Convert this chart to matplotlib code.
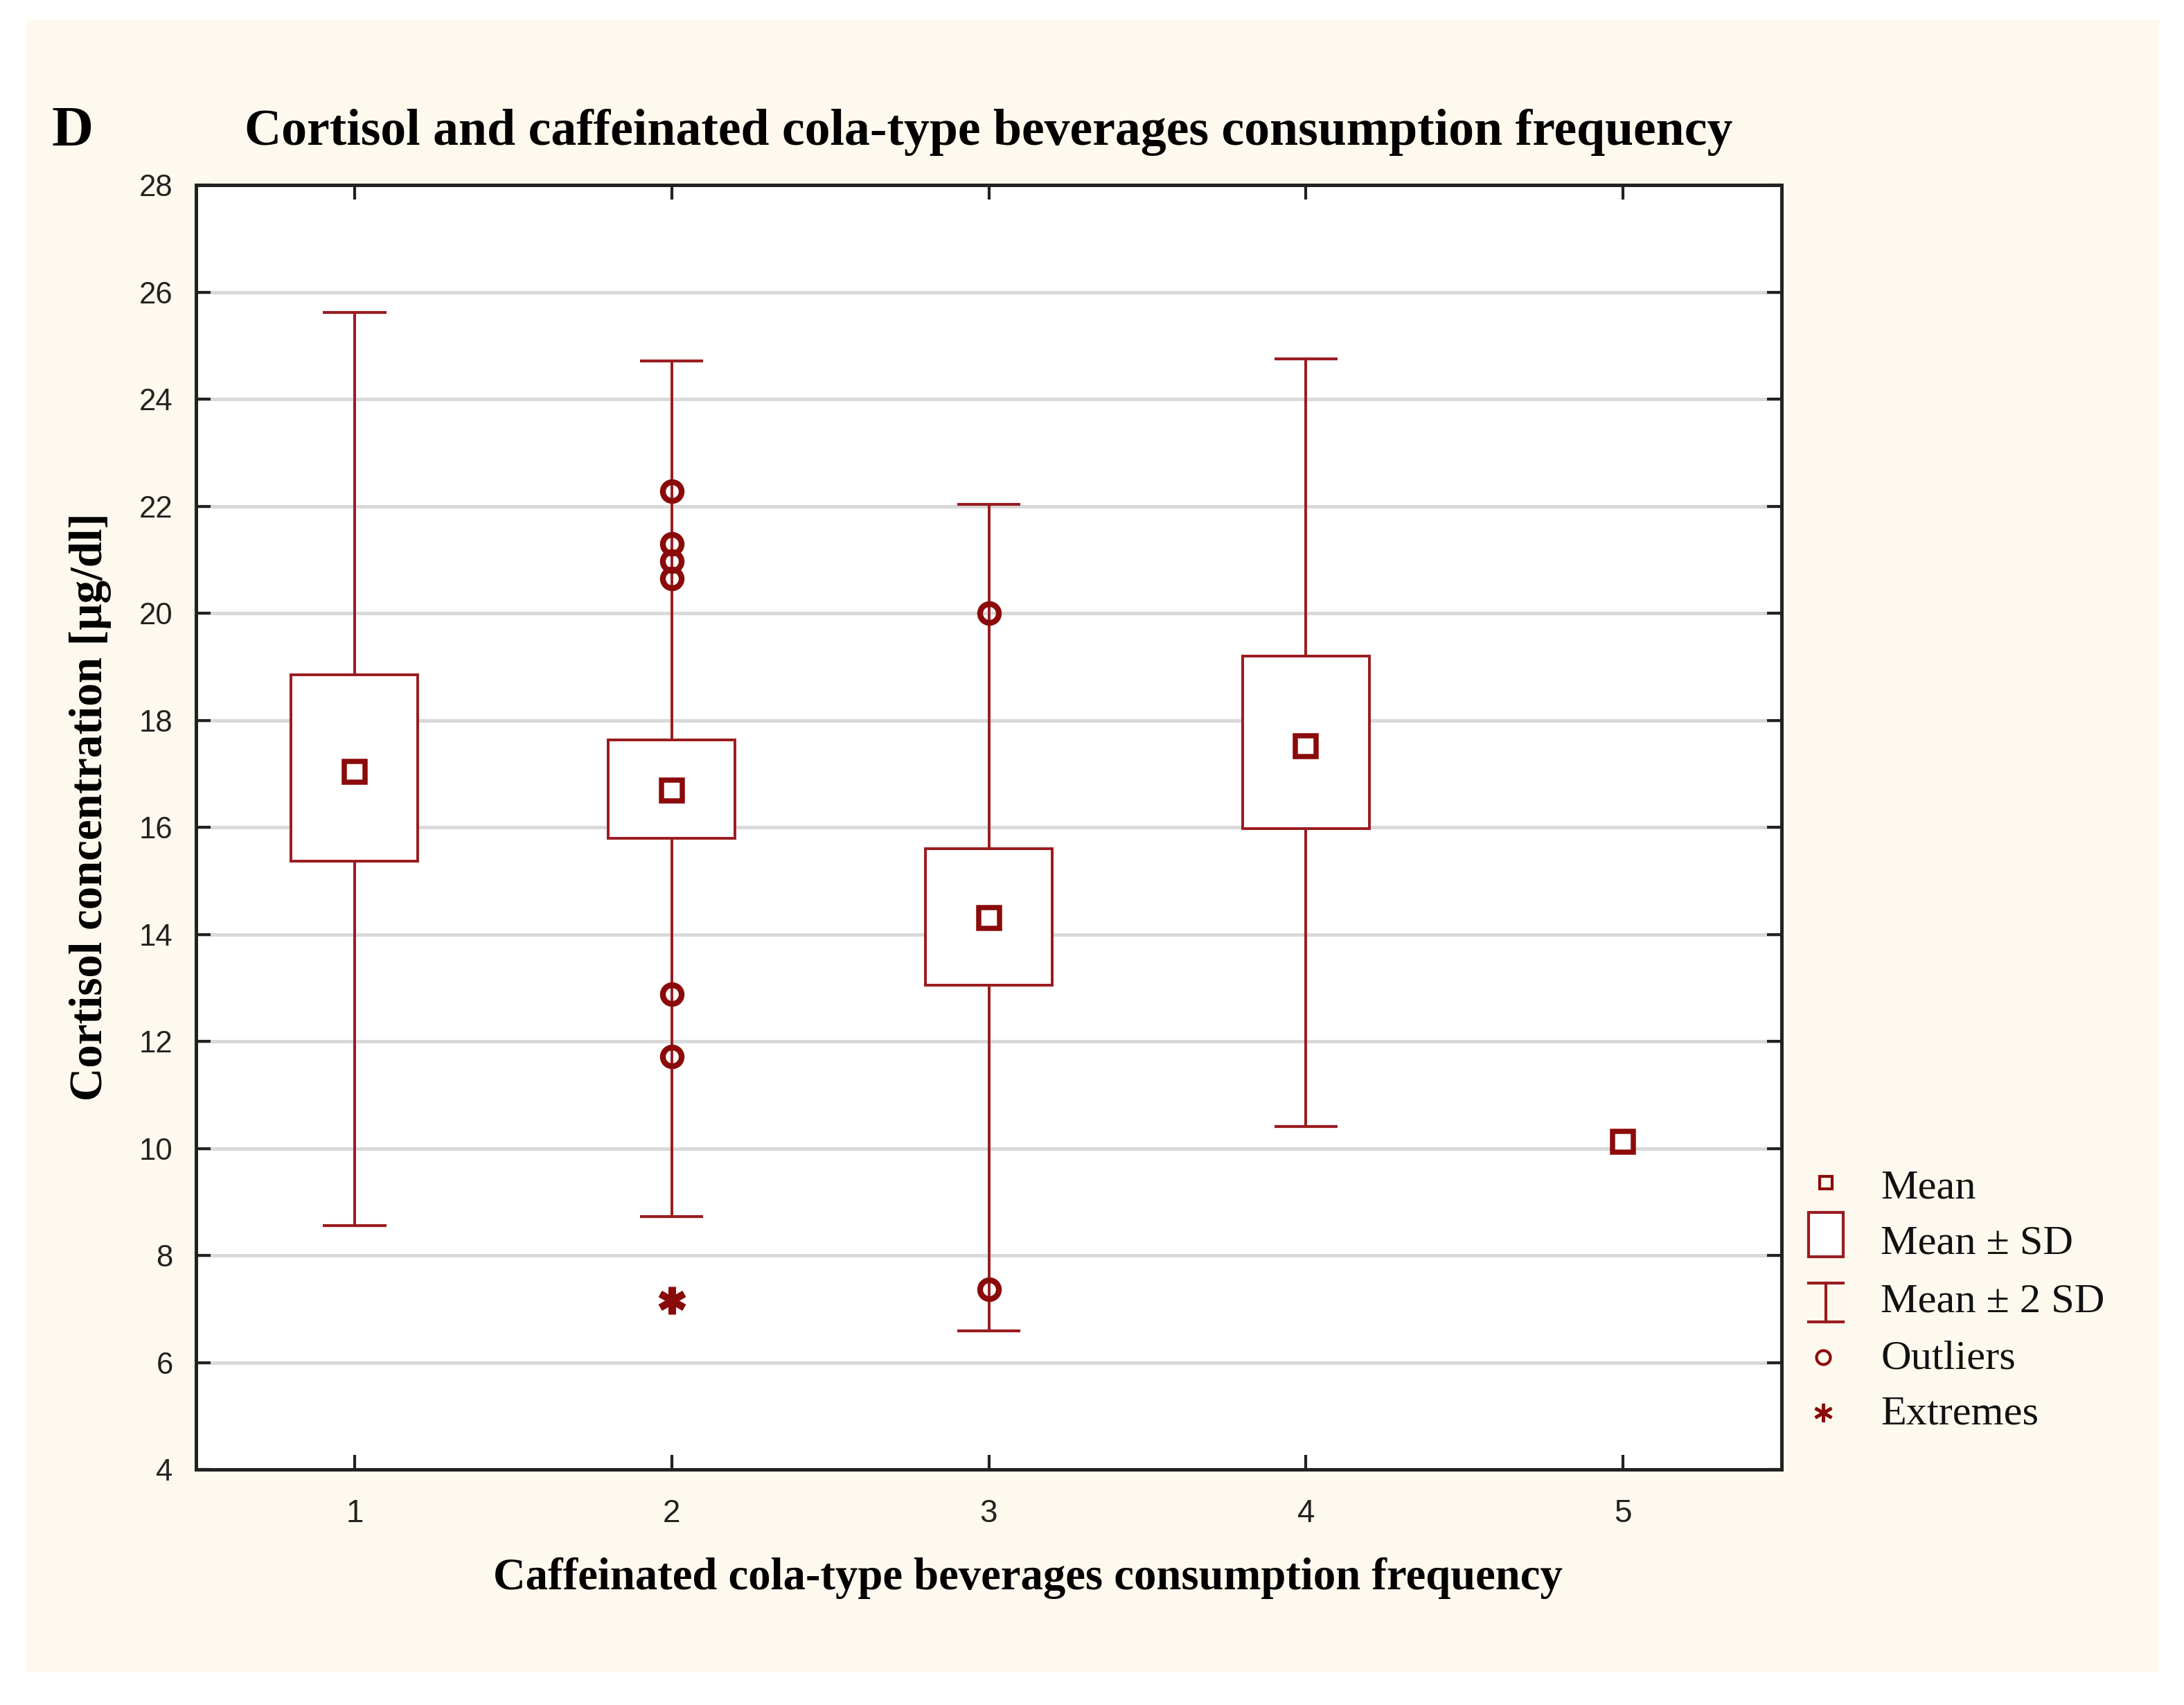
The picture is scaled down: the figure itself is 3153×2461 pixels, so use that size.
import matplotlib
matplotlib.use("Agg")
import matplotlib.pyplot as plt
from matplotlib.patches import Rectangle

# values
groups = [1, 2, 3, 4, 5]
means = [17.04, 16.68, 14.30, 17.51, 10.12]
sd_low = [15.37, 15.79, 13.05, 15.98]
sd_high = [18.85, 17.63, 15.60, 19.20]
sd2_low = [8.56, 8.73, 6.59, 10.41]
sd2_high = [25.62, 24.71, 22.03, 24.75]
outlier_x = [2, 2, 2, 2, 2, 2, 3, 3]
outlier_y = [22.28, 21.29, 20.97, 20.65, 12.88, 11.71, 20.00, 7.37]
extreme_x = [2]
extreme_y = [7.16]

legend_labels = ["Mean", "Mean \u00b1 SD", "Mean \u00b1 2 SD", "Outliers", "Extremes"]

red = "#8B0A0A"
line_red = "#9A1C20"
serif = ["Liberation Serif", "DejaVu Serif"]
narrow = ["Liberation Sans Narrow", "Liberation Sans", "DejaVu Sans"]

W, H = 3153, 2461
fig = plt.figure(figsize=(W / 300, H / 300), dpi=300, facecolor="white")

# cream panel behind everything
fig.patches.append(Rectangle((38 / W, 1 - 2413 / H), (3117 - 38) / W, (2413 - 29) / H,
                             transform=fig.transFigure, facecolor="#FDF9EE",
                             edgecolor="none", zorder=-10))

ax = fig.add_axes([283 / W, 1 - 2121 / H, (2572 - 283) / W, (2121 - 267) / H])
ax.set_facecolor("white")

box_w = 0.40
cap_w = 0.20
for i in range(len(sd_low)):
    g = groups[i]
    ax.vlines(g, sd2_low[i], sd_low[i], color=line_red, lw=0.95, zorder=2)
    ax.vlines(g, sd_high[i], sd2_high[i], color=line_red, lw=0.95, zorder=2)
    ax.hlines([sd2_low[i], sd2_high[i]], g - cap_w / 2, g + cap_w / 2,
              color=line_red, lw=1.0, zorder=2)
    ax.add_patch(Rectangle((g - box_w / 2, sd_low[i]), box_w, sd_high[i] - sd_low[i],
                           facecolor="white", edgecolor=line_red, lw=0.95, zorder=3))

ax.plot(groups, means, "s", ms=7, mfc="white", mec=red, mew=1.8, zorder=5)
ax.plot(outlier_x, outlier_y, "o", ms=6.5, mfc="none", mec=red, mew=2.0, zorder=5)
ax.plot(extreme_x, extreme_y, marker=(6, 2, 0), ls="none", ms=9.5, mec=red, mew=2.4, zorder=5)

ax.set_xlim(0.5, 5.5)
ax.set_ylim(4, 28)
ax.set_xticks(groups)
ax.set_yticks(range(4, 29, 2))
ax.yaxis.grid(True, color="#d9d9d9", lw=1.2)
ax.set_axisbelow(True)
ax.tick_params(direction="in", top=True, right=True, length=5, width=1,
               colors="#222222", labelsize=10.5)
ax.tick_params(axis="y", pad=8)
ax.tick_params(axis="x", pad=10, labelsize=11)
for lab in ax.get_xticklabels() + ax.get_yticklabels():
    lab.set_family(narrow)
for s in ax.spines.values():
    s.set_linewidth(1.2)
    s.set_color("#222222")

cx = (283 + 2572) / 2 / W
fig.text(75 / W, 1 - 191 / H, "D", family=serif, fontsize=20, fontweight="bold",
         ha="left", va="center")
fig.text(cx, 1 - 191 / H, "Cortisol and caffeinated cola-type beverages consumption frequency",
         family=serif, fontsize=17.7, fontweight="bold", ha="center", va="center")
fig.text(1484 / W, 1 - 2278 / H, "Caffeinated cola-type beverages consumption frequency",
         family=serif, fontsize=15.5, fontweight="bold", ha="center", va="center")
fig.text(131 / W, 1 - 1165 / H, "Cortisol concentration [\u00b5g/dl]",
         family=serif, fontsize=16.1, fontweight="bold", ha="center", va="center", rotation=90)

# legend drawn in pixel coordinates on an overlay
lg = fig.add_axes([0, 0, 1, 1], facecolor="none")
lg.set_xlim(0, W)
lg.set_ylim(H, 0)
lg.axis("off")
ys = [1715, 1796, 1880, 1961, 2041]
mx = 2636
lg.plot([mx], [ys[0] - 8], "s", ms=4.5, mfc="none", mec=red, mew=1.0)
lg.add_patch(Rectangle((mx - 25, ys[1] - 46), 50, 64, facecolor="white",
                       edgecolor=line_red, lw=1.0))
lg.plot([mx, mx], [ys[2] - 28, ys[2] + 28], color=line_red, lw=1.0)
lg.plot([mx - 25, mx + 25], [ys[2] - 28, ys[2] - 28], color=line_red, lw=1.0)
lg.plot([mx - 25, mx + 25], [ys[2] + 28, ys[2] + 28], color=line_red, lw=1.0)
lg.plot([mx - 4], [ys[3] - 2], "o", ms=4.8, mfc="none", mec=red, mew=1.0)
lg.plot([mx - 4], [ys[4] - 2], marker=(6, 2, 0), ls="none", ms=6.5, mec=red, mew=1.1)
for y, t in zip(ys, legend_labels):
    lg.text(2715, y, t, family=serif, fontsize=14.5, ha="left", va="center", color="#111111")

fig.savefig("out.png", dpi=300, facecolor="white")
